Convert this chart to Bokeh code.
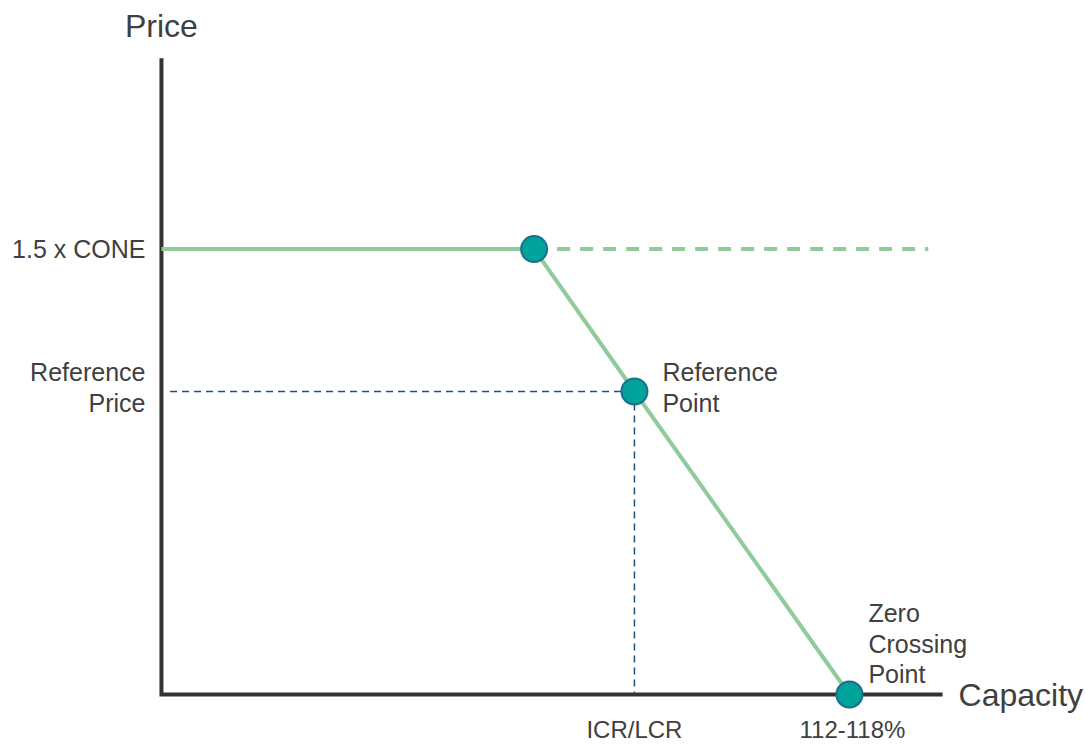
from bokeh.plotting import figure
from bokeh.models import Range1d
from bokeh.core.properties import value
from bokeh.embed import file_html
from bokeh.resources import INLINE

# ---- data (capacity in % of requirement, price in multiples of reference price)
axis_cap = [67.0, 121.5]          # x-axis extent
axis_price_top = 2.1              # y-axis top
kink_cap = 93.0                   # where the cap at 1.5 x CONE ends
icr_cap = 100.0                   # ICR/LCR (reference point)
zero_cap = 115.0                  # zero crossing point (112-118%)
dash_end_cap = 120.5              # end of dashed continuation of the cap
cone_price = 1.47                 # 1.5 x CONE
ref_price = 1.0                   # reference price

curve_x = [axis_cap[0], kink_cap, icr_cap, zero_cap]
curve_y = [cone_price, cone_price, ref_price, 0.0]
point_x = [kink_cap, icr_cap, zero_cap]
point_y = [cone_price, ref_price, 0.0]

FONT = value("Liberation Sans")
TXT = "#404040"
LH = 1.1

p = figure(width=1085, height=745, output_backend="svg", toolbar_location=None,
           x_axis_location=None, y_axis_location=None, min_border=0,
           x_range=Range1d(55.77, 131.47), y_range=Range1d(-0.1683, 2.2904))
p.grid.visible = False
p.outline_line_color = None
p.background_fill_color = "white"
p.border_fill_color = "white"

# axes
p.line([axis_cap[0], axis_cap[0], axis_cap[1]], [axis_price_top, 0, 0],
       line_color="#333333", line_width=4, line_join="miter")

# reference guides
p.line([axis_cap[0] + 0.6, icr_cap], [ref_price, ref_price],
       line_color="#1f4e79", line_width=1.5, line_dash="7 5")
p.line([icr_cap, icr_cap], [ref_price, 0], line_color="#1f4e79",
       line_width=1.5, line_dash="7 5")

# dashed continuation of the cap
p.line([kink_cap, dash_end_cap], [cone_price, cone_price], line_color="#8fcb9b",
       line_width=4, line_dash="13 10")
# VRR curve
p.line(curve_x, curve_y, line_color="#8fcb9b", line_width=4)

# points
p.scatter(point_x, point_y, size=26, fill_color="#00a39a",
          line_color="#1b6e8c", line_width=2)

# axis titles
p.text([axis_cap[0]], [axis_price_top], text=["Price"], text_font=FONT,
       text_font_size="32px", text_color=TXT, text_align="center",
       text_baseline="bottom", y_offset=-14)
p.text([axis_cap[1]], [0], text=["Capacity"], text_font=FONT,
       text_font_size="32px", text_color=TXT, text_align="left",
       text_baseline="middle", x_offset=16)

# y labels
p.text([axis_cap[0]], [cone_price], text=["1.5 x CONE"], text_font=FONT,
       text_font_size="25px", text_color=TXT, text_align="right",
       text_baseline="middle", x_offset=-16)
p.text([axis_cap[0]], [ref_price], text=["Reference\nPrice"], text_font=FONT,
       text_font_size="25px", text_color=TXT, text_align="right",
       text_baseline="middle", x_offset=-16, y_offset=-4, text_line_height=LH)

# point labels
p.text([icr_cap], [ref_price], text=["Reference\nPoint"], text_font=FONT,
       text_font_size="25px", text_color=TXT, text_align="left",
       text_baseline="middle", x_offset=28, y_offset=-4, text_line_height=LH)
p.text([zero_cap], [0], text=["Zero\nCrossing\nPoint"], text_font=FONT,
       text_font_size="25px", text_color=TXT, text_align="left",
       text_baseline="bottom", x_offset=19, y_offset=-6, text_line_height=LH)

# x labels
p.text([icr_cap], [0], text=["ICR/LCR"], text_font=FONT,
       text_font_size="24px", text_color=TXT, text_align="center",
       text_baseline="middle", y_offset=35)
p.text([zero_cap], [0], text=["112-118%"], text_font=FONT,
       text_font_size="24px", text_color=TXT, text_align="center",
       text_baseline="middle", x_offset=3, y_offset=35)

open("out.html", "w").write(file_html(p, INLINE))
